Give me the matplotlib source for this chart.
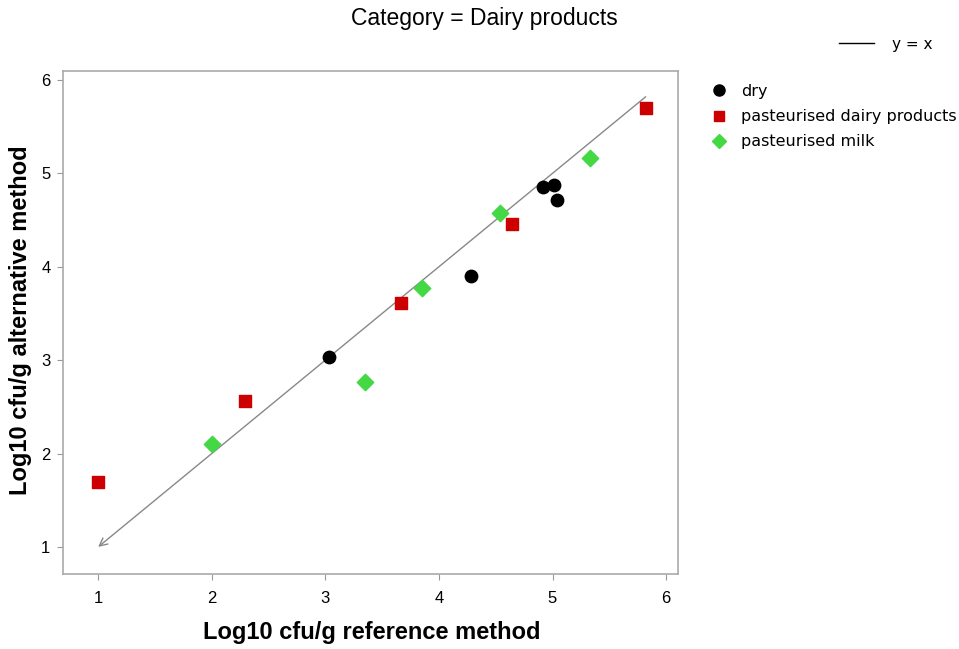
import matplotlib
matplotlib.use("Agg")
import matplotlib.pyplot as plt
from matplotlib.lines import Line2D

plt.rcParams['font.family'] = ['Liberation Sans', 'DejaVu Sans']

# data
dry_x = [3.03, 4.28, 4.92, 5.01, 5.04]
dry_y = [3.03, 3.90, 4.85, 4.87, 4.72]

pdp_x = [1.00, 2.29, 3.67, 4.64, 5.82]
pdp_y = [1.70, 2.56, 3.61, 4.46, 5.70]

milk_x = [2.00, 3.35, 3.85, 4.54, 5.33]
milk_y = [2.10, 2.77, 3.77, 4.58, 5.16]

line_start = 5.82
line_end = 1.0

ticks = [1, 2, 3, 4, 5, 6]

fig = plt.figure(figsize=(9.59, 6.49), dpi=100)
ax = fig.add_axes([63/959, 1 - 574/649, (678-63)/959, (574-71)/649])

# y = x reference line with arrow at (1,1)
ax.annotate('', xy=(line_end, line_end), xytext=(line_start, line_start),
            arrowprops=dict(arrowstyle='->', color='#888888', lw=1.0,
                            mutation_scale=14, shrinkA=0, shrinkB=0))

ax.scatter(dry_x, dry_y, marker='o', s=80, color='black', zorder=3)
ax.scatter(pdp_x, pdp_y, marker='s', s=80, color='#cc0000', zorder=3)
ax.scatter(milk_x, milk_y, marker='D', s=70, color='#44d844', zorder=3)

ax.set_xlim(0.69, 6.105)
ax.set_ylim(0.71, 6.096)
ax.set_xticks(ticks)
ax.set_yticks(ticks)
ax.tick_params(direction='out', length=4, color='#999999', labelsize=12)
ax.tick_params(axis='x', pad=8)
ax.tick_params(axis='y', pad=5)
for s in ax.spines.values():
    s.set_color('#aaaaaa')
    s.set_linewidth(1.2)

ax.set_xlabel('Log10 cfu/g reference method', fontsize=17, fontweight='bold', va='center')
ax.set_ylabel('Log10 cfu/g alternative method', fontsize=17, fontweight='bold', va='center')
ax.xaxis.set_label_coords((372 - 63) / 615, (574 - 632) / 503)
ax.yaxis.set_label_coords((21 - 63) / 615, (574 - 320) / 503)

fig.text(484/959, 1 - 18/649, 'Category = Dairy products', ha='center', va='center', fontsize=16.5)

# line legend
fig.legend(handles=[Line2D([], [], color='black', lw=1)], labels=['y = x'],
           loc='center left', bbox_to_anchor=(825/959, 1 - 44/649),
           frameon=False, handlelength=2.3, handletextpad=1.2,
           prop={'family': 'DejaVu Sans', 'size': 11})
# marker legend
handles = [
    Line2D([], [], marker='o', ls='', color='black', markersize=8),
    Line2D([], [], marker='s', ls='', color='#cc0000', markersize=7),
    Line2D([], [], marker='D', ls='', color='#44d844', markersize=7),
]
fig.legend(handles=handles, labels=['dry', 'pasteurised dairy products', 'pasteurised milk'],
           loc='upper left', bbox_to_anchor=(703/959, 1 - 84/649), frameon=False,
           prop={'family': 'DejaVu Sans', 'size': 11.5},
           handletextpad=0.4, labelspacing=0.64, borderaxespad=0, borderpad=0)

fig.savefig('out.png', dpi=100)
